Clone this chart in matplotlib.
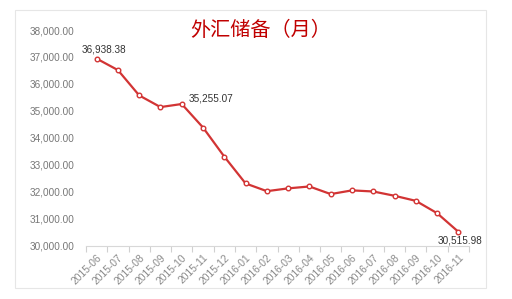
import numpy as np
import matplotlib
matplotlib.use('Agg')
import matplotlib.pyplot as plt
from matplotlib.patches import Rectangle

plt.rcParams['font.family'] = ['Noto Sans CJK SC', 'DejaVu Sans']

months = ['2015-06', '2015-07', '2015-08', '2015-09', '2015-10', '2015-11',
          '2015-12', '2016-01', '2016-02', '2016-03', '2016-04', '2016-05',
          '2016-06', '2016-07', '2016-08', '2016-09', '2016-10', '2016-11']
reserves = [36938.38, 36513.10, 35573.81, 35141.20, 35255.07, 34382.84,
            33303.62, 32308.89, 32022.37, 32126.19, 32196.57, 31914.73,
            32051.62, 32010.52, 31851.67, 31663.82, 31206.55, 30515.98]
y_ticks = [30000, 31000, 32000, 33000, 34000, 35000, 36000, 37000, 38000]
labelled = [0, 4, 17]

fig = plt.figure(figsize=(5.12, 2.99), dpi=100)
fig.patch.set_facecolor('white')
# light frame around the chart panel
fig.patches.append(Rectangle((15 / 512, 1 - 288 / 299), 471 / 512, 278 / 299,
                             transform=fig.transFigure, facecolor='none',
                             edgecolor='#e6e6e6', linewidth=0.8, zorder=-1))

ax = fig.add_axes([86 / 512, 53.3 / 299, 383 / 512, 215.7 / 299])
ax.set_facecolor('none')
x = np.arange(len(months))
ax.plot(x, reserves, color='#d23434', linewidth=1.6, marker='o', markersize=3.3,
        markerfacecolor='white', markeredgecolor='#d23434', markeredgewidth=1.0,
        zorder=3)

ax.set_xlim(-0.45, len(months) - 0.55)
ax.set_ylim(30000, 38000)
ax.set_yticks(y_ticks)
ax.set_yticklabels([f'{v:,.2f}' for v in y_ticks], family='Liberation Sans')
ax.set_xticks(x)
ax.set_xticklabels(months, rotation=45, ha='right', rotation_mode='anchor',
                   family='Liberation Sans')
ax.set_xticks(np.arange(len(months) + 1) - 0.5, minor=True)

ax.tick_params(axis='y', length=0, pad=8, labelsize=7.2, labelcolor='#777777')
ax.tick_params(axis='x', which='major', length=0, pad=5, labelsize=7.4,
               labelcolor='#8a8a8a')
ax.tick_params(axis='x', which='minor', length=4, color='#d0d0d0', width=0.8)

for s in ['left', 'right', 'top']:
    ax.spines[s].set_visible(False)
ax.spines['bottom'].set_color('#d8d8d8')

offsets = {0: (5, 3, 'center', 'bottom'), 4: (5, 4, 'left', 'center'),
           17: (1, -3, 'center', 'top')}
for i in labelled:
    dx, dy, ha, va = offsets[i]
    ax.annotate(f'{reserves[i]:,.2f}', (x[i], reserves[i]), xytext=(dx, dy),
                textcoords='offset points', ha=ha, va=va, fontsize=7.2,
                color='#333333', family='Liberation Sans')

fig.text(0.51, 1 - 31 / 299, '外汇储备（月）', ha='center', va='center',
         fontsize=14.5, color='#c00000')

fig.savefig('out.png', dpi=100)
